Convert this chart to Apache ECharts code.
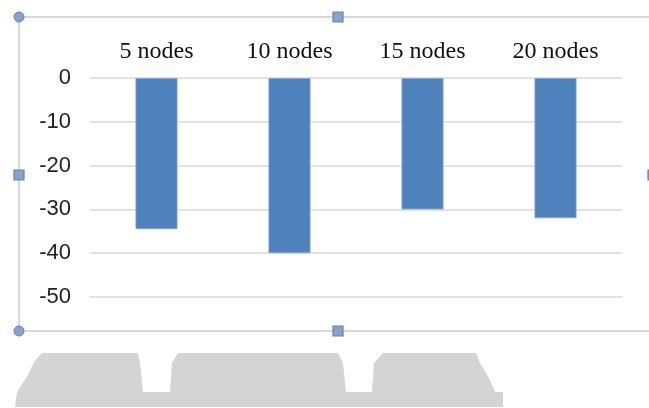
<!DOCTYPE html>
<html>
<head>
<meta charset="utf-8">
<script src="https://cdn.jsdelivr.net/npm/echarts@6/dist/echarts.min.js"></script>
<style>
html,body{margin:0;padding:0;background:#fff;}
#c{width:649px;height:408px;}
</style>
</head>
<body>
<div id="c"></div>
<script>
var categories = ['5 nodes', '10 nodes', '15 nodes', '20 nodes'];
var values = [-34.5, -40, -30, -32];
var yTicks = { min: -50, max: 0, interval: 10 };

var chart = echarts.init(document.getElementById('c'), null, { renderer: 'canvas' });

var handleFill = '#8aa2c8';
var handleStroke = '#6582ae';
function circ(x, y) {
  return { type: 'circle', shape: { cx: x, cy: y, r: 5 }, style: { fill: handleFill, stroke: handleStroke, lineWidth: 1 }, z: 10 };
}
function sq(x, y) {
  return { type: 'rect', shape: { x: x - 5, y: y - 5, width: 10, height: 10 }, style: { fill: handleFill, stroke: handleStroke, lineWidth: 1.2 }, z: 10 };
}
function poly(pts) {
  return { type: 'polygon', shape: { points: pts }, style: { fill: '#d4d4d4' }, z: 1 };
}

chart.setOption({
  animation: false,
  grid: { left: 90, right: 27, top: 78, bottom: 111 },
  xAxis: {
    type: 'category',
    position: 'top',
    data: categories,
    axisLine: { show: false },
    axisTick: { show: false },
    axisLabel: {
      margin: 14,
      fontFamily: 'Liberation Serif',
      fontSize: 24,
      color: '#111'
    }
  },
  yAxis: {
    type: 'value',
    min: yTicks.min,
    max: yTicks.max,
    interval: yTicks.interval,
    axisLine: { show: false },
    axisTick: { show: false },
    splitLine: { lineStyle: { color: '#d9d9d9', width: 1.5 } },
    axisLabel: {
      margin: 19,
      fontFamily: 'Liberation Sans',
      fontSize: 22,
      color: '#222'
    }
  },
  series: [{
    type: 'bar',
    data: values,
    barWidth: 42,
    itemStyle: { color: '#4f81bd', borderColor: '#86a6d2', borderWidth: 0.8 }
  }],
  graphic: [
    { type: 'rect', shape: { x: 19, y: 17, width: 632, height: 314 }, style: { fill: 'none', stroke: '#d9d9d9', lineWidth: 2 }, z: 5 },
    circ(19, 17), circ(19, 331),
    sq(338, 17), sq(338, 331), sq(19, 175), sq(653, 175),
    poly([[42,353],[138,353],[140,363],[143,392],[503,392],[503,407],[15,407],[17,392],[28,375],[34,362]]),
    poly([[178,353],[338,353],[343,363],[346,392],[170,392],[172,363]]),
    poly([[383,353],[476,353],[480,363],[490,380],[495,392],[372,392],[374,363]])
  ]
});
</script>
</body>
</html>
